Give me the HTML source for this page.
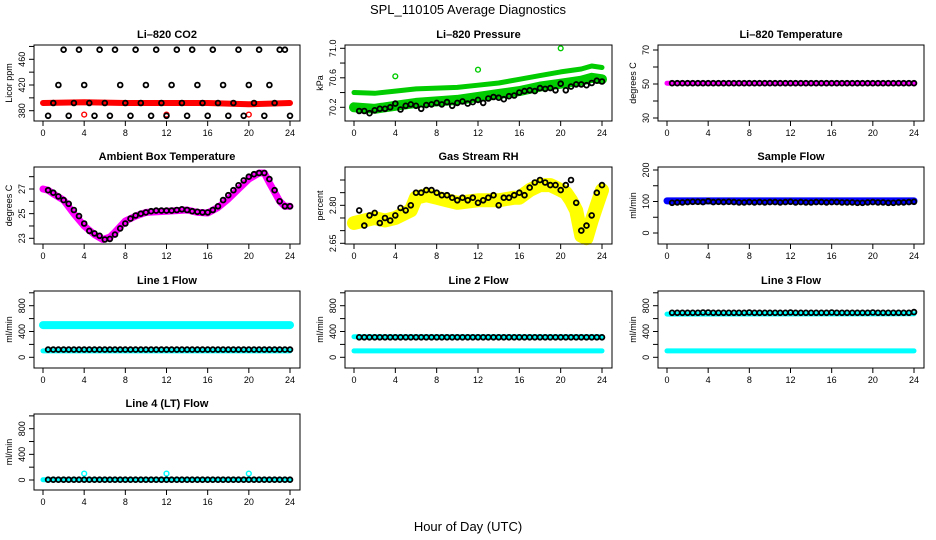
<!DOCTYPE html>
<html><head><meta charset="utf-8"><style>
body{margin:0;background:#fff;width:936px;height:540px;overflow:hidden}
svg{display:block;font-family:"Liberation Sans",Arial,sans-serif}
</style></head><body>
<svg id="chart" width="936" height="540" viewBox="0 0 936 540">
<text x="468" y="14" text-anchor="middle" font-size="13">SPL_110105  Average Diagnostics</text>
<text x="468" y="531" text-anchor="middle" font-size="13">Hour of Day (UTC)</text>
</svg>
<script>
const H = [0.5,1,1.5,2,2.5,3,3.5,4,4.5,5,5.5,6,6.5,7,7.5,8,8.5,9,9.5,10,10.5,11,11.5,12,12.5,13,13.5,14,14.5,15,15.5,16,16.5,17,17.5,18,18.5,19,19.5,20,20.5,21,21.5,22,22.5,23,23.5,24];
const xTicks = [0,4,8,12,16,20,24];

const co2Black = [372,392,420,475,372,392,475,420,392,372,475,392,372,475,420,392,372,475,392,420,372,475,392,372,420,475,392,372,475,420,392,372,475,392,420,372,392,475,372,420,392,475,372,420,392,475,475,372];
const co2BandH = [0,4,8,12,16,20,24];
const co2BandV = [392,393,392,392,392,390,392];
const co2OutH = [4,12,20];
const co2OutV = [374,374,374];

const presBlack = [70.15,70.15,70.12,70.16,70.18,70.18,70.2,70.25,70.17,70.22,70.24,70.22,70.18,70.23,70.24,70.26,70.24,70.27,70.22,70.26,70.28,70.25,70.27,70.3,70.26,70.32,70.34,70.33,70.31,70.35,70.36,70.4,70.42,70.43,70.42,70.46,70.45,70.46,70.43,70.52,70.43,70.48,70.51,70.51,70.5,70.53,70.56,70.55];
const presBandH = [0,2,4,6,8,10,12,14,16,18,20,22,23,24];
const presUpper = [70.4,70.39,70.42,70.45,70.46,70.47,70.5,70.53,70.58,70.63,70.68,70.72,70.76,70.74];
const presLower = [70.2,70.18,70.22,70.26,70.28,70.3,70.34,70.38,70.42,70.48,70.52,70.56,70.6,70.58];
const presOutH = [4,12,20];
const presOutV = [70.62,70.71,71.0];

const tempBlack = [50.5,50.5,50.5,50.5,50.5,50.5,50.5,50.5,50.5,50.5,50.5,50.5,50.5,50.5,50.5,50.5,50.5,50.5,50.5,50.5,50.5,50.5,50.5,50.5,50.5,50.5,50.5,50.5,50.5,50.5,50.5,50.5,50.5,50.5,50.5,50.5,50.5,50.5,50.5,50.5,50.5,50.5,50.5,50.5,50.5,50.5,50.5,50.5];
const tempBandH = [0,24];
const tempBandV = [50.5,50.5];

const ambBandH = [0,0.5,1,2,3,4,5,5.8,6.5,7,8,9,10,12,14,15,16,17,18,19,20,21,21.5,22,23,23.5,24];
const ambBandV = [27,26.9,26.6,26.1,25,24,23.3,22.9,23.1,23.5,24.4,24.8,25.1,25.2,25.3,25.1,25.05,25.5,26.2,27.0,27.8,28.3,28.3,27.5,26,25.6,25.6];
const ambBlack = [26.9,26.7,26.4,26.1,25.8,25.3,24.8,24.2,23.6,23.4,23.2,22.9,22.95,23.3,23.8,24.2,24.6,24.85,25.0,25.1,25.2,25.25,25.25,25.25,25.25,25.3,25.35,25.3,25.2,25.15,25.1,25.1,25.3,25.6,26.1,26.5,26.9,27.3,27.7,28.0,28.2,28.3,28.3,27.8,26.9,26.0,25.6,25.6];

const rhBandH = [0,1,2,3,4,5,5.5,6,7,8,9,10,12,14,15.5,16,17,18,19,20,20.5,21,21.5,22,22.5,23,23.5,24];
const rhBandV = [2.73,2.74,2.75,2.74,2.75,2.77,2.78,2.83,2.84,2.83,2.82,2.81,2.82,2.82,2.83,2.83,2.86,2.88,2.88,2.86,2.85,2.82,2.78,2.68,2.67,2.74,2.8,2.86];
const rhBlack = [2.78,2.72,2.76,2.77,2.73,2.75,2.74,2.76,2.79,2.78,2.80,2.85,2.85,2.86,2.86,2.85,2.84,2.84,2.83,2.82,2.83,2.82,2.83,2.81,2.82,2.83,2.84,2.80,2.83,2.83,2.84,2.85,2.84,2.87,2.89,2.90,2.89,2.88,2.88,2.86,2.88,2.90,2.81,2.70,2.72,2.76,2.85,2.88];

const sfBandH = [0,24];
const sfBandV = [102,102];
const sfBlack = [96,97,97,98,99,99,98,101,98,99,98,99,98,97,97,98,97,98,97,98,98,97,98,99,97,98,97,97,98,98,97,98,98,97,97,97,96,96,97,98,97,97,96,96,97,97,98,99];

const l1BandH = [0,24];
const l1HighV = [500,500];
const l1LowV = [100,100];
const l1Black = [120,120,120,120,120,120,120,120,120,120,120,120,120,120,120,120,120,120,120,120,120,120,120,120,120,120,120,120,120,120,120,120,120,120,120,120,120,120,120,120,120,120,120,120,120,120,120,120];

const l2BandH = [0,24];
const l2HighV = [320,320];
const l2LowV = [100,100];
const l2Black = [310,310,310,310,310,310,310,310,310,310,310,310,310,310,310,310,310,310,310,310,310,310,310,310,310,310,310,310,310,310,310,310,310,310,310,310,310,310,310,310,310,310,310,310,310,310,310,310];

const l3BandH = [0,24];
const l3HighV = [670,675];
const l3LowV = [100,100];
const l3Black = [690,690,690,690,690,690,695,695,690,690,690,690,690,690,690,695,690,690,690,690,690,690,690,695,690,690,690,690,690,690,690,695,690,690,690,690,690,690,690,695,690,690,690,690,690,690,690,700];

const l4BandH = [0,24];
const l4BandV = [5,5];
const l4OutH = [4,12,20];
const l4OutV = [100,100,100];
const l4Black = [5,5,5,5,5,5,5,5,5,5,5,5,5,5,5,5,5,5,5,5,5,5,5,5,5,5,5,5,5,5,5,5,5,5,5,5,5,5,5,5,5,5,5,5,5,5,5,5];

const NS = "http://www.w3.org/2000/svg";
const svg = document.getElementById("chart");
function mk(tag, attrs, parent){const e=document.createElementNS(NS,tag);for(const k in attrs)e.setAttribute(k,attrs[k]);(parent||svg).appendChild(e);return e;}

const cols=[[34,300],[345,612],[658,924]];
const rows=[[45,121],[167,244],[291,368],[414,490]];

function panel(o){
  const [L,R]=cols[o.c],[T,B]=rows[o.r];
  const g=mk("g",{});
  
  
  const x0=L+9,x1=R-10;
  const xs=h=>x0+(h/24)*(x1-x0);
  const ys=v=>o.py0+(v-o.v0)/(o.v1-o.v0)*(o.py1-o.py0);
  const t=mk("text",{x:(L+R)/2,y:T-7,"text-anchor":"middle","font-size":"11","font-weight":"bold"},g);
  t.textContent=o.title;
  
  
  (o.bands||[]).forEach(b=>{
    const pts=b.h.map((h,i)=>xs(h).toFixed(1)+","+ys(b.v[i]).toFixed(1)).join(" ");
    const p=mk("polyline",{points:pts,fill:"none",stroke:b.col,"stroke-width":b.w,"stroke-linejoin":"round","stroke-linecap":"round"},g);
    
    
  });
  (o.pts||[]).forEach(s=>{
    s.v.forEach((v,i)=>{
      const c=mk("circle",{cx:xs(s.h[i]).toFixed(1),cy:ys(v).toFixed(1),r:2.4,fill:"none",stroke:s.col,"stroke-width":s.col==="#000"?1.8:1.4},g);
      
      
    });
  });
  const box=mk("rect",{x:L,y:T,width:R-L,height:B-T,fill:"none",stroke:"#000","stroke-width":1},g);
  
  
  xTicks.forEach(h=>{
    mk("line",{x1:xs(h),x2:xs(h),y1:B,y2:B+5,stroke:"#000"},g);
    const l=mk("text",{x:xs(h),y:B+15,"text-anchor":"middle","font-size":"9"},g);
    l.textContent=h;
    
    
  });
  o.yt.forEach(v=>{
    const y=ys(v);
    mk("line",{x1:L-5,x2:L,y1:y,y2:y,stroke:"#000"},g);
    if(o.yl.includes(v)){
      const l=mk("text",{x:L-9,y:y,"text-anchor":"middle","font-size":"9",transform:`rotate(-90 ${L-9} ${y})`},g);
      l.textContent=o.fmt?o.fmt(v):v;
      
      
    }
  });
  const yl=mk("text",{x:L-22,y:(T+B)/2,"text-anchor":"middle","font-size":"9",transform:`rotate(-90 ${L-22} ${(T+B)/2})`},g);
  yl.textContent=o.ylab;
  
  
}

panel({name:"co2-panel",c:0,r:0,title:"Li\u2013820 CO2",ylab:"Licor ppm",v0:380,v1:460,py0:110.7,py1:59.3,
  yt:[380,400,420,440,460,480],yl:[380,420,460],
  bands:[{h:co2BandH,v:co2BandV,col:"#ff0000",w:6}],
  pts:[{h:co2OutH,v:co2OutV,col:"#ff0000"},{h:H,v:co2Black,col:"#000"}]});
panel({name:"pressure-panel",c:1,r:0,title:"Li\u2013820 Pressure",ylab:"kPa",v0:70.2,v1:71.0,py0:107.3,py1:48.3,
  yt:[70.2,70.4,70.6,70.8,71.0],yl:[70.2,70.6,71.0],fmt:v=>v.toFixed(1),
  bands:[{h:presBandH,v:presUpper,col:"#00cc00",w:5},{h:presBandH,v:presLower,col:"#00cc00",w:10}],
  pts:[{h:presOutH,v:presOutV,col:"#00cc00"},{h:H,v:presBlack,col:"#000"}]});
panel({name:"li820-temperature-panel",c:2,r:0,title:"Li\u2013820 Temperature",ylab:"degrees C",v0:30,v1:70,py0:118,py1:50,
  yt:[30,40,50,60,70],yl:[30,50,70],
  bands:[{h:tempBandH,v:tempBandV,col:"#ff00ff",w:5}],
  pts:[{h:H,v:tempBlack,col:"#000"}]});
panel({name:"ambient-temperature-panel",c:0,r:1,title:"Ambient Box Temperature",ylab:"degrees C",v0:23,v1:27,py0:238.3,py1:189,
  yt:[23,24,25,26,27,28],yl:[23,25,27],
  bands:[{h:ambBandH,v:ambBandV,col:"#ff00ff",w:7}],
  pts:[{h:H,v:ambBlack,col:"#000"}]});
panel({name:"gas-rh-panel",c:1,r:1,title:"Gas Stream RH",ylab:"percent",v0:2.65,v1:2.90,py0:243.3,py1:180,
  yt:[2.65,2.70,2.75,2.80,2.85,2.90],yl:[2.65,2.80],fmt:v=>v.toFixed(2),
  bands:[{h:rhBandH,v:rhBandV,col:"#ffff00",w:14}],
  pts:[{h:H,v:rhBlack,col:"#000"}]});
panel({name:"sample-flow-panel",c:2,r:1,title:"Sample Flow",ylab:"ml/min",v0:0,v1:200,py0:233,py1:170,
  yt:[0,50,100,150,200],yl:[0,100,200],
  bands:[{h:sfBandH,v:sfBandV,col:"#0000ff",w:7}],
  pts:[{h:H,v:sfBlack,col:"#000"}]});
panel({name:"line1-flow-panel",c:0,r:2,title:"Line 1 Flow",ylab:"ml/min",v0:0,v1:800,py0:357.3,py1:305.7,
  yt:[0,200,400,600,800,1000],yl:[0,400,800],
  bands:[{h:l1BandH,v:l1HighV,col:"#00ffff",w:8},{h:l1BandH,v:l1LowV,col:"#00ffff",w:5}],
  pts:[{h:H,v:l1Black,col:"#000"}]});
panel({name:"line2-flow-panel",c:1,r:2,title:"Line 2 Flow",ylab:"ml/min",v0:0,v1:800,py0:357.3,py1:305.7,
  yt:[0,200,400,600,800,1000],yl:[0,400,800],
  bands:[{h:l2BandH,v:l2HighV,col:"#00ffff",w:5},{h:l2BandH,v:l2LowV,col:"#00ffff",w:5}],
  pts:[{h:H,v:l2Black,col:"#000"}]});
panel({name:"line3-flow-panel",c:2,r:2,title:"Line 3 Flow",ylab:"ml/min",v0:0,v1:800,py0:357.3,py1:305.7,
  yt:[0,200,400,600,800,1000],yl:[0,400,800],
  bands:[{h:l3BandH,v:l3HighV,col:"#00ffff",w:5},{h:l3BandH,v:l3LowV,col:"#00ffff",w:5}],
  pts:[{h:H,v:l3Black,col:"#000"}]});
panel({name:"line4-flow-panel",c:0,r:3,title:"Line 4 (LT) Flow",ylab:"ml/min",v0:0,v1:800,py0:480,py1:428.7,
  yt:[0,200,400,600,800,1000],yl:[0,400,800],
  bands:[{h:l4BandH,v:l4BandV,col:"#00ffff",w:5}],
  pts:[{h:l4OutH,v:l4OutV,col:"#00ffff"},{h:H,v:l4Black,col:"#000"}]});
</script>
</body></html>
